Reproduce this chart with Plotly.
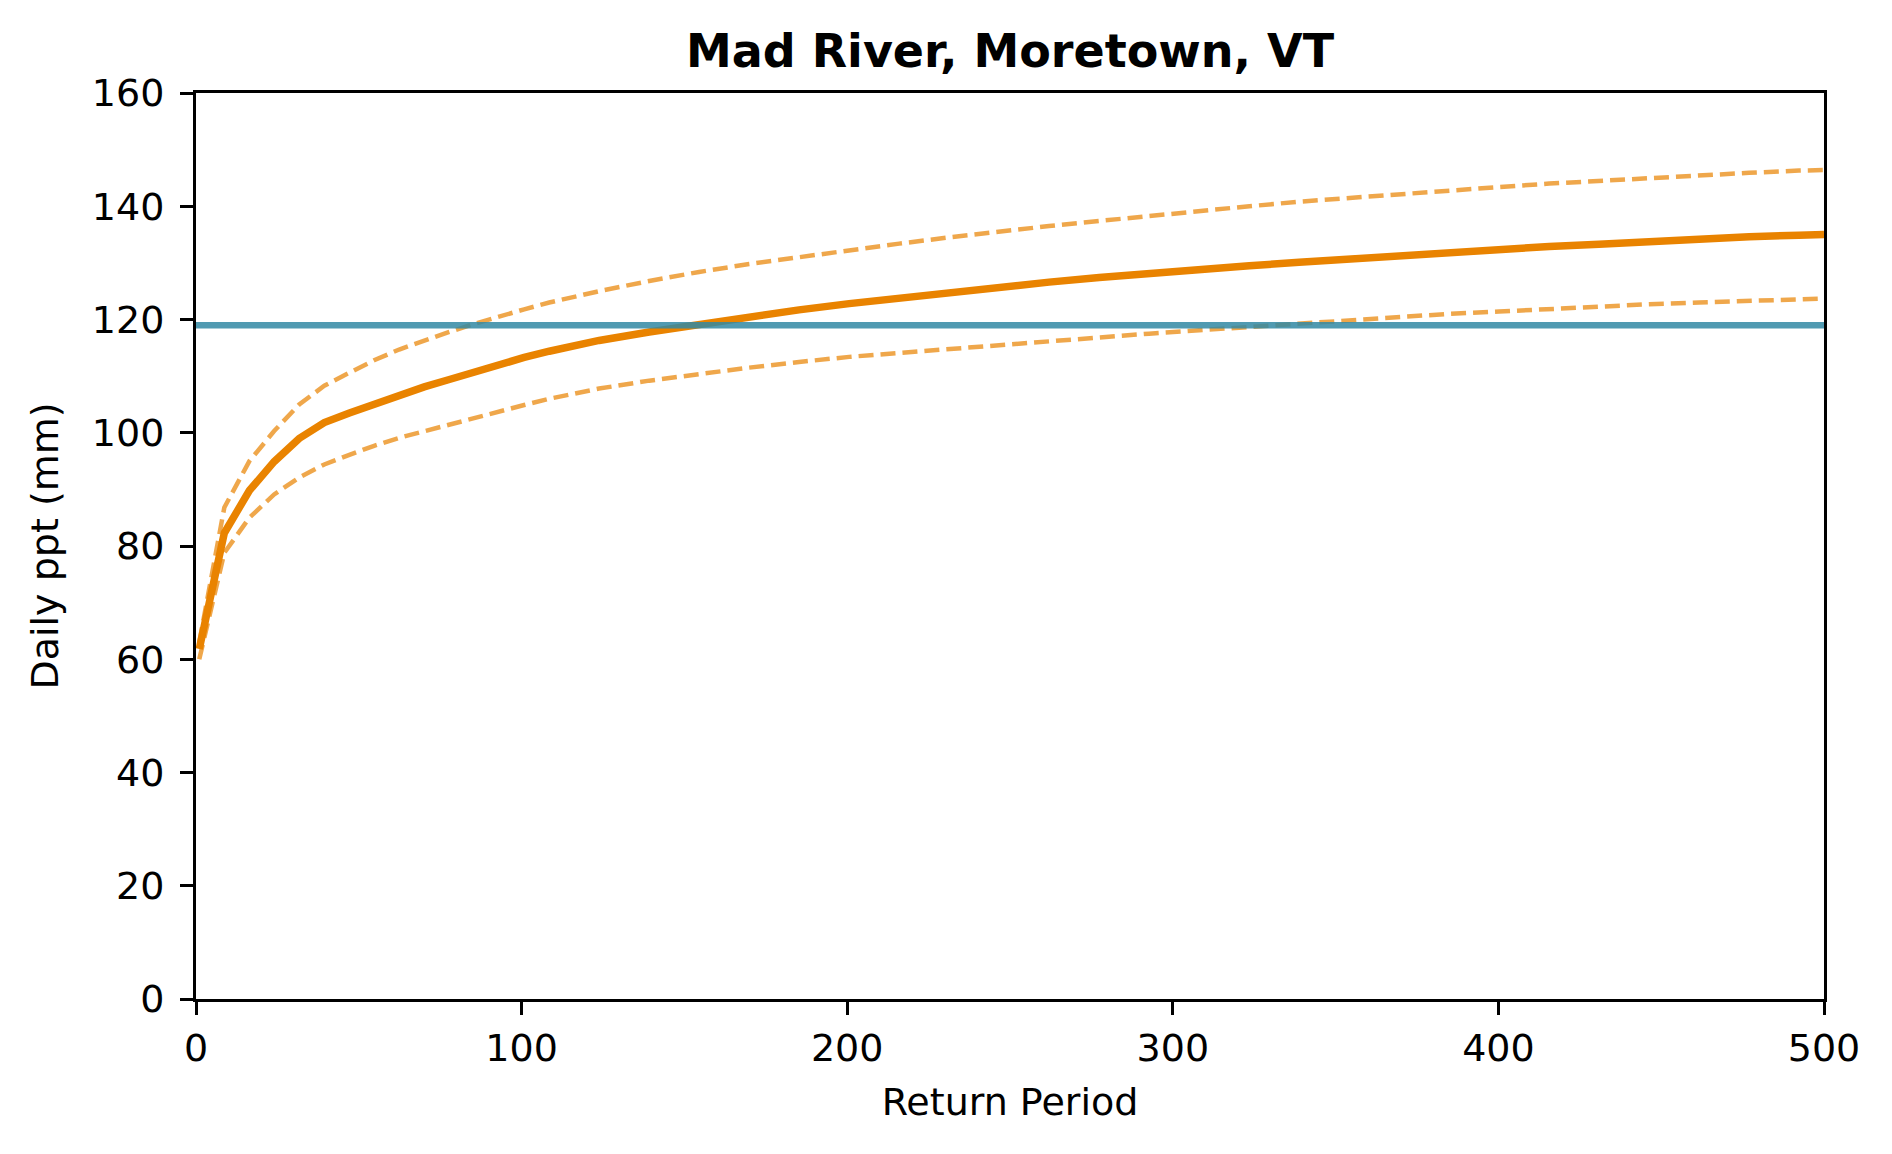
import plotly.graph_objects as go

# Return periods (years) at which the curves are evaluated
return_period = [1.0, 8.7, 16.4, 24.0, 31.7, 39.4, 47.1, 54.7, 62.4, 70.1, 77.8,
                 85.4, 93.1, 100.8, 108.5, 116.1, 123.8, 139.2, 154.5, 169.9,
                 185.2, 200.6, 216.0, 231.3, 246.7, 262.0, 277.4, 292.7, 308.1,
                 323.5, 338.8, 354.2, 369.5, 384.9, 400.2, 415.6, 430.9, 446.3,
                 461.6, 477.0, 492.3, 500.0]
# Central estimate of daily precipitation (mm)
level = [61.8, 82.3, 89.8, 94.9, 99.0, 101.8, 103.5, 105.1, 106.7, 108.1, 109.4,
         110.8, 112.1, 113.3, 114.4, 115.4, 116.3, 117.8, 119.2, 120.5,
         121.7, 122.8, 123.8, 124.8, 125.7, 126.6, 127.4, 128.2, 128.9,
         129.5, 130.1, 130.7, 131.3, 131.8, 132.4, 132.9, 133.3, 133.8,
         134.2, 134.6, 134.9, 135.0]
# Upper confidence bound
upper = [63.0, 86.8, 95.0, 100.3, 105.0, 108.3, 110.6, 112.8, 114.7, 116.3, 117.8,
         119.2, 120.6, 121.8, 123.0, 124.0, 125.0, 126.8, 128.4, 129.8,
         131.0, 132.3, 133.4, 134.5, 135.6, 136.5, 137.4, 138.3, 139.2,
         140.0, 140.8, 141.5, 142.2, 142.8, 143.4, 144.0, 144.5, 145.0,
         145.5, 145.9, 146.3, 146.4]
# Lower confidence bound
lower = [60.0, 78.8, 85.0, 89.1, 92.1, 94.4, 96.1, 97.7, 99.1, 100.3, 101.5,
         102.7, 103.8, 104.9, 106.0, 106.9, 107.8, 109.2, 110.4, 111.5,
         112.5, 113.4, 114.1, 114.8, 115.5, 116.2, 116.9, 117.5, 118.1,
         118.7, 119.3, 119.9, 120.4, 121.0, 121.4, 121.9, 122.3, 122.7,
         123.0, 123.3, 123.6, 123.7]
# Observed event threshold
observed = 119.0
x_limits = [0, 500]

orange = "rgb(233,131,0)"
blue = "rgb(50,137,164)"

fig = go.Figure()
fig.add_trace(go.Scatter(x=return_period, y=upper, mode="lines",
                         line=dict(color=orange, width=4.5, dash="15px,7px"),
                         opacity=0.7, showlegend=False))
fig.add_trace(go.Scatter(x=return_period, y=lower, mode="lines",
                         line=dict(color=orange, width=4.5, dash="15px,7px"),
                         opacity=0.7, showlegend=False))
fig.add_trace(go.Scatter(x=return_period, y=level, mode="lines",
                         line=dict(color=orange, width=7.5),
                         showlegend=False))
fig.add_trace(go.Scatter(x=x_limits, y=[observed, observed], mode="lines",
                         line=dict(color=blue, width=6.5),
                         opacity=0.85, showlegend=False))

axis_common = dict(showline=True, linecolor="black", linewidth=3, mirror=True,
                   ticks="outside", ticklen=13, tickwidth=3, tickcolor="black",
                   showgrid=False, zeroline=False,
                   tickfont=dict(family="DejaVu Sans", size=38, color="black"))

fig.update_layout(
    width=1892, height=1154,
    margin=dict(l=188, r=76, t=85, b=163),
    paper_bgcolor="white", plot_bgcolor="white",
    font=dict(family="DejaVu Sans", color="black"),
    title=dict(text="<b>Mad River, Moretown, VT</b>", x=0.5, xref="paper",
               y=1 - 43 / 1154, yref="container", yanchor="middle",
               xanchor="center",
               font=dict(family="DejaVu Sans", size=46, color="black")),
    xaxis=dict(range=x_limits, tickvals=[0, 100, 200, 300, 400, 500],
               ticklabelstandoff=0,
               title=dict(text="Return Period", standoff=20,
                          font=dict(family="DejaVu Sans", size=38, color="black")),
               **axis_common),
    yaxis=dict(range=[0, 160], tickvals=[0, 20, 40, 60, 80, 100, 120, 140, 160],
               ticklabelstandoff=8,
               title=dict(text="Daily ppt (mm)", standoff=22,
                          font=dict(family="DejaVu Sans", size=38, color="black")),
               **axis_common),
)

fig.write_html("out.html")
